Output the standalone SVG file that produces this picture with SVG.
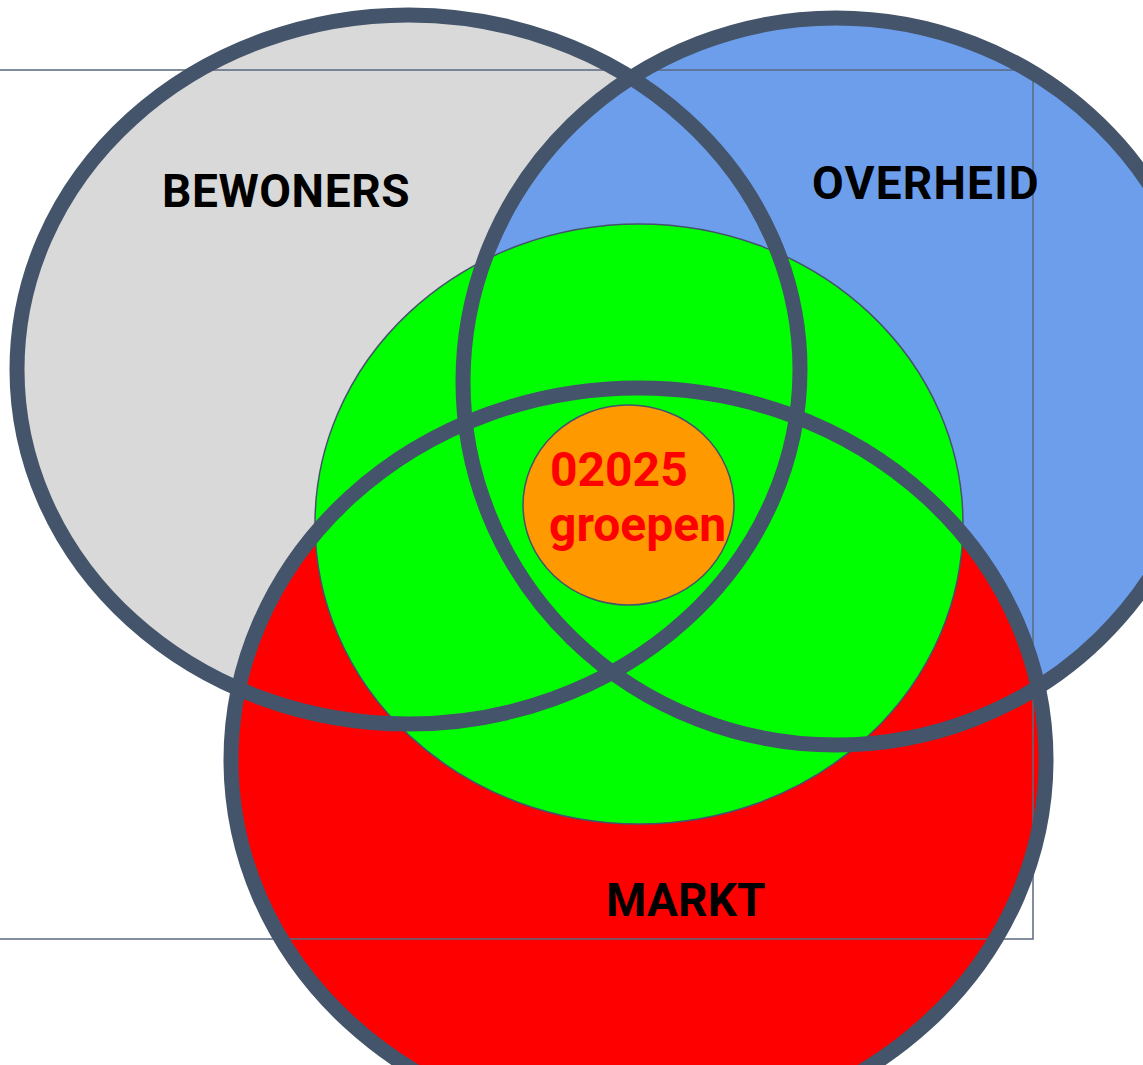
<svg xmlns="http://www.w3.org/2000/svg" width="1143" height="1065" viewBox="0 0 1143 1065">
<style>
.fill{stroke:none}
.ring{fill:none;stroke:#44546a;stroke-width:15}
.thin{stroke:#44546a;stroke-width:1.5}
.lbl{font-family:Roboto,"Liberation Sans",sans-serif;font-weight:bold;font-size:46px;fill:#000}
.red{font-family:Roboto,"Liberation Sans",sans-serif;font-weight:bold;font-size:48px;fill:#ff0000}
</style>
<rect width="1143" height="1065" fill="#ffffff"/>
<g id="bewoners-fill"><ellipse class="fill" cx="408.5" cy="369.5" rx="391.5" ry="354.5" fill="#d9d9d9"/></g>
<g id="overheid-fill"><ellipse class="fill" cx="836" cy="381.5" rx="373" ry="363.5" fill="#6d9eeb"/></g>
<g id="markt-fill"><ellipse class="fill" cx="638.5" cy="760" rx="407.5" ry="372" fill="#ff0000"/></g>
<g id="green"><ellipse class="thin" cx="639" cy="524" rx="324" ry="300" fill="#00ff00"/></g>
<g id="core"><ellipse class="thin" cx="628.5" cy="505" rx="105.5" ry="100" fill="#ff9900"/></g>
<g id="frame"><rect x="-5" y="70" width="1038" height="869" fill="none" stroke="#5a6a80" stroke-width="1.5"/></g>
<g id="rings">
<ellipse class="ring" cx="408.5" cy="369.5" rx="391.5" ry="354.5"/>
<ellipse class="ring" cx="836" cy="381.5" rx="373" ry="363.5"/>
<ellipse class="ring" cx="638.5" cy="760" rx="407.5" ry="372"/>
</g>
<g id="labels">
<text class="lbl" x="162" y="207" letter-spacing="0.6">BEWONERS</text>
<text class="lbl" x="812" y="199" letter-spacing="1.2">OVERHEID</text>
<text class="lbl" x="606" y="916" letter-spacing="0.2">MARKT</text>
<text class="red" x="550" y="486">02025</text>
<text class="red" x="549" y="541">groepen</text>
</g>
</svg>
